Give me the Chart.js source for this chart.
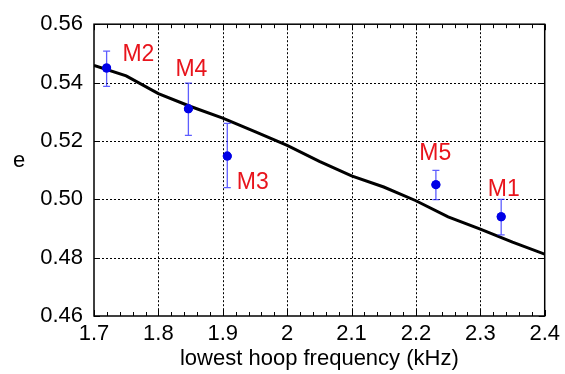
<!DOCTYPE html>
<html>
<head>
<meta charset="utf-8">
<script src="https://cdn.jsdelivr.net/npm/chart.js@4"></script>
<style>
html,body{margin:0;padding:0;background:#fff;}
canvas{display:block;}
</style>
</head>
<body>
<canvas id="c" width="565" height="374"></canvas>
<script>
// ---- data ----
const curveX = [1.70, 1.75, 1.80, 1.85, 1.90, 1.95, 2.00, 2.05, 2.10, 2.15, 2.20, 2.25, 2.30, 2.35, 2.40];
const curveY = [0.5459, 0.5423, 0.5362, 0.5318, 0.5278, 0.5232, 0.5185, 0.5130, 0.5080, 0.5042, 0.4995, 0.4940, 0.4898, 0.4853, 0.4812];
const pointNames = ['M2', 'M4', 'M3', 'M5', 'M1'];
const pointX = [1.7196, 1.8466, 1.9070, 2.2310, 2.3324];
const pointY = [0.5450, 0.5310, 0.5148, 0.5050, 0.4940];
const errLow = [0.5387, 0.5219, 0.5040, 0.4999, 0.4878];
const errHigh = [0.5508, 0.5398, 0.5260, 0.5099, 0.5000];
const labelX = [1.7689, 1.8513, 1.9465, 2.2301, 2.3365];
const labelY = [0.5500, 0.5449, 0.5061, 0.5160, 0.5038];
const xTicks = [1.7, 1.8, 1.9, 2.0, 2.1, 2.2, 2.3, 2.4];
const yTicks = [0.46, 0.48, 0.50, 0.52, 0.54, 0.56];
const xTitle = 'lowest hoop frequency (kHz)';
const yTitle = 'e';

const FONT = '"Liberation Sans", Arial, Helvetica, sans-serif';

const framePlugin = {
  id: 'frame',
  beforeDatasetsDraw(chart) {
    const ctx = chart.ctx, a = chart.chartArea;
    const xs = chart.scales.x, ys = chart.scales.y;
    ctx.save();
    ctx.strokeStyle = '#000';
    ctx.lineWidth = 1;
    ctx.setLineDash([2, 2]);
    xTicks.forEach(v => {
      const px = Math.round(xs.getPixelForValue(v)) + 0.5;
      if (px < a.left + 2 || px > a.right - 2) return;
      ctx.beginPath(); ctx.moveTo(px, a.top); ctx.lineTo(px, a.bottom); ctx.stroke();
    });
    yTicks.forEach(v => {
      const py = Math.round(ys.getPixelForValue(v)) + 0.5;
      if (py < a.top + 2 || py > a.bottom - 2) return;
      ctx.beginPath(); ctx.moveTo(a.left, py); ctx.lineTo(a.right, py); ctx.stroke();
    });
    ctx.restore();
  },
  afterDatasetsDraw(chart) {
    const ctx = chart.ctx, a = chart.chartArea;
    const xs = chart.scales.x, ys = chart.scales.y;
    // error bars
    const ds = chart.getDatasetMeta(1);
    ctx.save();
    ctx.strokeStyle = 'rgba(40,40,255,0.75)';
    ctx.lineWidth = 1.3;
    pointX.forEach((x, i) => {
      const px = xs.getPixelForValue(x);
      const y1 = ys.getPixelForValue(errLow[i]);
      const y2 = ys.getPixelForValue(errHigh[i]);
      ctx.beginPath();
      ctx.moveTo(px, y1); ctx.lineTo(px, y2);
      ctx.moveTo(px - 3.5, y1); ctx.lineTo(px + 3.5, y1);
      ctx.moveTo(px - 3.5, y2); ctx.lineTo(px + 3.5, y2);
      ctx.stroke();
    });
    ctx.restore();
    // redraw points on top
    ds.controller.draw();
    // labels
    ctx.save();
    ctx.fillStyle = '#e8141c';
    ctx.font = '23px ' + FONT;
    ctx.textAlign = 'center';
    ctx.textBaseline = 'middle';
    pointNames.forEach((n, i) => {
      ctx.fillText(n, xs.getPixelForValue(labelX[i]), ys.getPixelForValue(labelY[i]) + 1);
    });
    ctx.restore();
    // frame & ticks
    ctx.save();
    ctx.strokeStyle = '#000';
    ctx.lineWidth = 1.5;
    ctx.strokeRect(a.left, a.top, a.right - a.left, a.bottom - a.top);
    ctx.lineWidth = 1;
    ctx.beginPath();
    for (let v = 1.7; v <= 2.4001; v += 0.02) {
      const px = Math.round(xs.getPixelForValue(v)) + 0.5;
      const major = Math.abs(Math.round(v * 10) / 10 - v) < 1e-6;
      const len = major ? 6 : 4;
      ctx.moveTo(px, a.bottom); ctx.lineTo(px, a.bottom - len);
      ctx.moveTo(px, a.top); ctx.lineTo(px, a.top + len);
    }
    yTicks.forEach(v => {
      const py = Math.round(ys.getPixelForValue(v)) + 0.5;
      ctx.moveTo(a.left, py); ctx.lineTo(a.left + 6, py);
      ctx.moveTo(a.right, py); ctx.lineTo(a.right - 6, py);
    });
    ctx.stroke();
    ctx.restore();
    // axis titles
    ctx.save();
    ctx.fillStyle = '#000';
    ctx.font = '22px ' + FONT;
    ctx.textAlign = 'center';
    ctx.textBaseline = 'alphabetic';
    ctx.fillText(xTitle, (a.left + a.right) / 2, 365);
    ctx.fillText(yTitle, 19, 167);
    ctx.restore();
  }
};

new Chart(document.getElementById('c'), {
  type: 'scatter',
  data: {
    datasets: [
      {
        data: curveX.map((x, i) => ({x, y: curveY[i]})),
        showLine: true,
        borderColor: '#000',
        borderWidth: 3,
        pointRadius: 0,
        tension: 0,
        order: 2
      },
      {
        data: pointX.map((x, i) => ({x, y: pointY[i]})),
        backgroundColor: '#0000e6',
        borderColor: '#0000e6',
        borderWidth: 0,
        pointRadius: 4.5,
        order: 1
      }
    ]
  },
  options: {
    responsive: false,
    animation: false,
    devicePixelRatio: 1,
    layout: {padding: {left: 0, top: 15, right: 19, bottom: 0}},
    plugins: {legend: {display: false}, tooltip: {enabled: false}},
    scales: {
      x: {
        type: 'linear', min: 1.7, max: 2.4,
        afterFit(s) { s.height = 58; },
        afterBuildTicks(s) { s.ticks = xTicks.map(v => ({value: v})); },
        grid: {display: false, drawTicks: false},
        border: {display: false},
        ticks: {
          color: '#000', font: {family: FONT, size: 22}, padding: 5,
          maxRotation: 0, autoSkip: false,
          callback: v => (Math.round(v * 10) / 10 === Math.round(v) ? String(Math.round(v)) : v.toFixed(1))
        }
      },
      y: {
        type: 'linear', min: 0.46, max: 0.56,
        afterFit(s) { s.width = 94; },
        afterBuildTicks(s) { s.ticks = yTicks.map(v => ({value: v})); },
        grid: {display: false, drawTicks: false},
        border: {display: false},
        ticks: {
          color: '#000', font: {family: FONT, size: 22}, padding: 11,
          autoSkip: false,
          callback: v => v.toFixed(2)
        }
      }
    }
  },
  plugins: [framePlugin]
});
</script>
</body>
</html>
